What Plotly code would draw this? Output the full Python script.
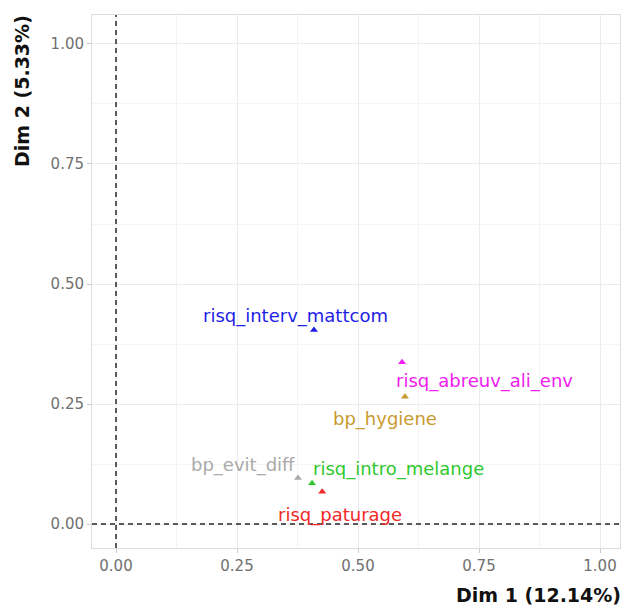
import plotly.graph_objects as go

# ---- data ----
variables = ["risq_interv_mattcom", "risq_abreuv_ali_env", "bp_hygiene",
             "bp_evit_diff", "risq_intro_melange", "risq_paturage"]
dim1 = [0.409, 0.591, 0.597, 0.376, 0.405, 0.426]
dim2 = [0.404, 0.337, 0.265, 0.096, 0.085, 0.067]
colors = ["#1E1EE6", "#F020F0", "#C89A30", "#AAAAAA", "#2EC82E", "#F02828"]
tick_vals = [0.0, 0.25, 0.5, 0.75, 1.0]
tick_text = ["0.00", "0.25", "0.50", "0.75", "1.00"]
x_title = "Dim 1 (12.14%)"
y_title = "Dim 2 (5.33%)"

# ---- layout (label offsets in px, repel-like placement) ----
label_dx = [-18, 82, -20, -55, 86, 18]
label_dy = [-16, 17, 20, -15, -16, 21]   # positive = down

FONT = "DejaVu Sans"

fig = go.Figure()
for name, x, y, c in zip(variables, dim1, dim2, colors):
    fig.add_trace(go.Scatter(
        x=[x], y=[y], mode="markers", name=name, showlegend=False,
        marker=dict(symbol="triangle-up", size=7, color=c, line=dict(width=0)),
    ))

for name, x, y, c, dx, dy in zip(variables, dim1, dim2, colors, label_dx, label_dy):
    fig.add_annotation(x=x, y=y, xref="x", yref="y", text=name, showarrow=False,
                       xshift=dx, yshift=-dy - 2, xanchor="center", yanchor="middle",
                       font=dict(family=FONT, size=18, color=c))

fig.add_hline(y=0, line=dict(color="#5A5A5A", width=2, dash="5px,4px"), layer="above")
fig.add_vline(x=0, line=dict(color="#5A5A5A", width=2, dash="5px,4px"), layer="above")

axis_common = dict(
    tickvals=tick_vals, ticktext=tick_text,
    showgrid=True, gridcolor="#EBEBEB", gridwidth=1,
    minor=dict(showgrid=True, gridcolor="#F4F4F4", gridwidth=0.8,
               tickvals=[0.125, 0.375, 0.625, 0.875]),
    zeroline=False, showline=True, linecolor="#DDDDDD", linewidth=1, mirror=True,
    ticks="outside", ticklen=4, tickcolor="#CCCCCC", tickwidth=1,
    tickfont=dict(family=FONT, size=15, color="#707070"),
)
fig.update_xaxes(range=[-0.0496, 1.0413], **axis_common)
fig.update_yaxes(range=[-0.05, 1.0604], **axis_common)

fig.add_annotation(text=f"<b>{x_title}</b>", xref="paper", yref="paper",
                   x=1.0, y=0, xanchor="right", yanchor="top", yshift=-34, xshift=3,
                   showarrow=False, font=dict(family=FONT, size=19, color="#111111"))
fig.add_annotation(text=f"<b>{y_title}</b>", xref="paper", yref="paper",
                   x=0, y=1.0, xanchor="right", yanchor="top", xshift=-57, yshift=2,
                   textangle=-90, showarrow=False,
                   font=dict(family=FONT, size=19, color="#111111"))

fig.update_layout(
    width=624, height=607,
    margin=dict(l=92, r=4, t=15, b=59),
    plot_bgcolor="white", paper_bgcolor="white",
    font=dict(family=FONT),
)
fig.write_html("out.html", config={"displayModeBar": False},
               post_script="document.body.style.margin='0px';document.body.style.overflow='hidden';")
